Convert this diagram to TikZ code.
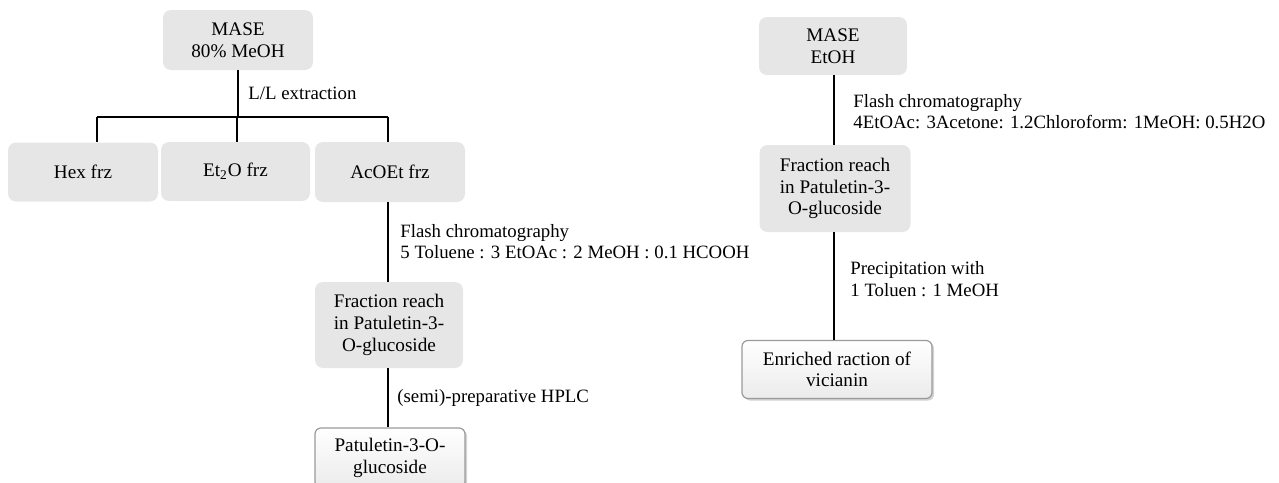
\documentclass[tikz,border=0pt]{standalone}
\usepackage{fontspec}
\setmainfont{Liberation Serif}
\usetikzlibrary{shadows}
\definecolor{boxgray}{HTML}{E6E6E6}
\definecolor{edgegray}{HTML}{9A9A9A}
\tikzset{
  px/.style={x=0.5pt,y=-0.5pt},
  graybox/.style={rounded corners=4pt, fill=boxgray, draw=none, align=center,
    inner sep=0pt, font=\fontsize{9.6}{10.8}\selectfont},
  whitebox/.style={rounded corners=3pt, top color=white, bottom color=boxgray!80,
    draw=edgegray, line width=0.6pt, align=center, inner sep=0pt,
    drop shadow={shadow xshift=1pt, shadow yshift=-1pt, opacity=0.35},
    font=\fontsize{9.6}{10.8}\selectfont},
  lbl/.style={anchor=west, align=left, inner sep=0pt, font=\fontsize{9.4}{10.8}\selectfont},
  conn/.style={draw=black, line width=0.8pt}
}
\begin{document}
\begin{tikzpicture}[px]
\useasboundingbox (0,0) rectangle (1279,482);
% left tree
\node[graybox, minimum width=75pt, minimum height=30pt] (mase1) at (238,40) {MASE\\80\% MeOH};
\node[graybox, minimum width=75pt, minimum height=29.5pt] (hex) at (83,172) {Hex frz};
\node[graybox, minimum width=74.5pt, minimum height=29.5pt] (et2o) at (235.5,171.5) {Et\textsubscript{2}O frz};
\node[graybox, minimum width=75pt, minimum height=30pt] (acoet) at (390,172) {AcOEt frz};
\node[graybox, minimum width=74pt, minimum height=43pt] (frac1) at (389,325) {Fraction reach\\in Patuletin-3-\\O-glucoside};
\node[whitebox, minimum width=75pt, minimum height=30pt] (patu) at (390,458) {Patuletin-3-O-\\glucoside};

\coordinate (top1) at (238,117);
\coordinate (jh) at (97,117);
\coordinate (je) at (237,117);
\coordinate (ja) at (388,117);
\draw[conn] (mase1.south -| top1) -- (top1);
\draw[conn] (jh) -- (ja);
\draw[conn] (jh) -- (jh |- hex.north);
\draw[conn] (je) -- (je |- et2o.north);
\draw[conn] (ja) -- (ja |- acoet.north);
\draw[conn] (ja |- acoet.south) -- (ja |- frac1.north);
\draw[conn] (ja |- frac1.south) -- (ja |- patu.north);

\node[lbl] (ll) at (248,93) {L/L extraction};
\node[lbl] (fc1) at (400,241.5) {Flash chromatography\\5 Toluene : 3 EtOAc : 2 MeOH : 0.1 HCOOH};
\node[lbl] (hplc) at (397,398) {(semi)-preparative HPLC};

% right tree
\node[graybox, minimum width=74pt, minimum height=29pt] (mase2) at (833,46) {MASE\\EtOH};
\node[graybox, minimum width=75.5pt, minimum height=43.5pt] (frac2) at (835,188.5) {Fraction reach\\in Patuletin-3-\\O-glucoside};
\node[whitebox, minimum width=95pt, minimum height=29pt] (enr) at (837,369.5) {Enriched raction of\\vicianin};
\coordinate (jr) at (834,0);
\draw[conn] (jr |- mase2.south) -- (jr |- frac2.north);
\draw[conn] (jr |- frac2.south) -- (jr |- enr.north);
\node[lbl] (fc2) at (853,111.5) {Flash chromatography\\4EtOAc: 3Acetone: 1.2Chloroform: 1MeOH: 0.5H2O};
\node[lbl] (prec) at (850,279) {Precipitation with\\1 Toluen : 1 MeOH};
\end{tikzpicture}
\end{document}
